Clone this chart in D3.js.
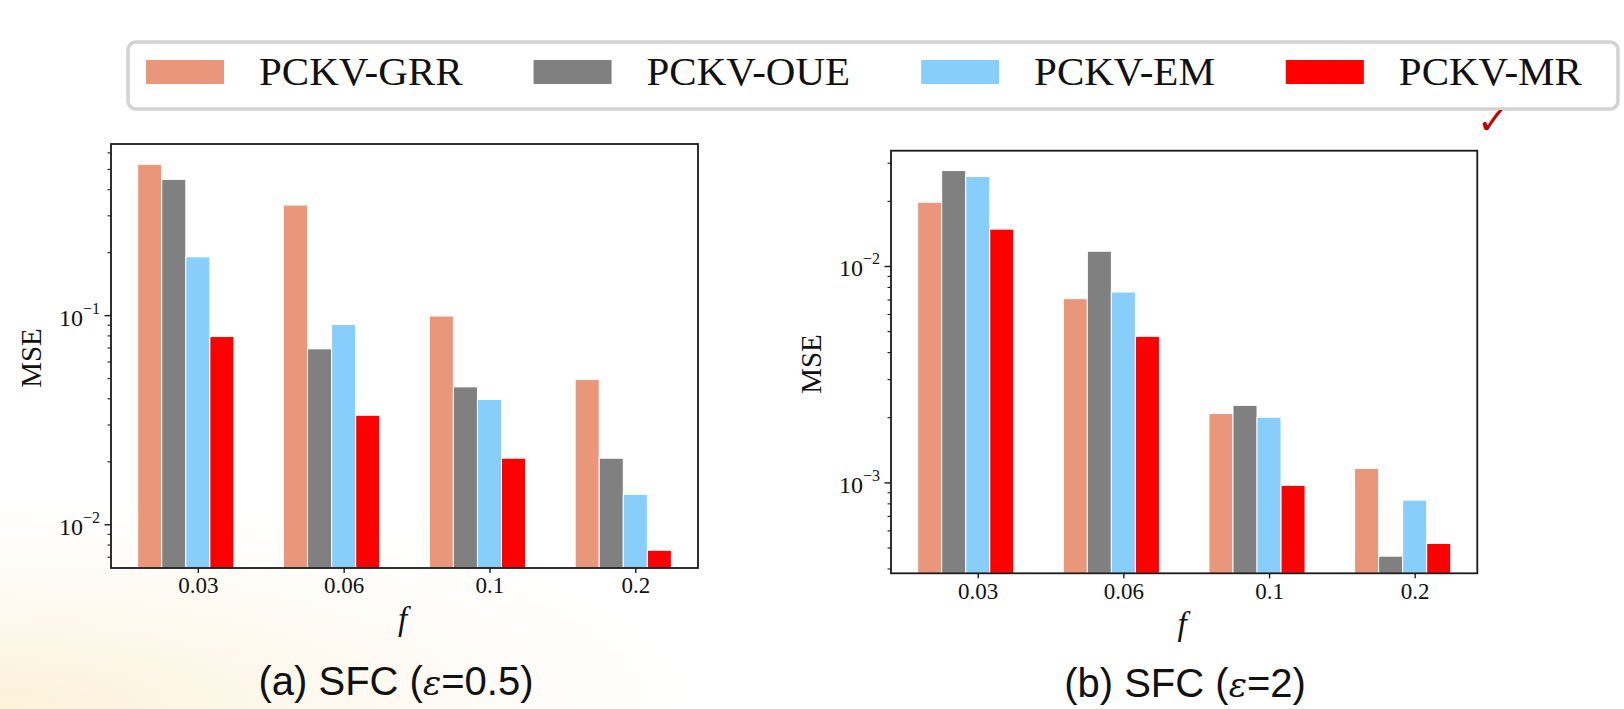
<!DOCTYPE html>
<html>
<head>
<meta charset="utf-8">
<script src="https://cdn.jsdelivr.net/npm/d3@7"></script>
<style>
  html, body { margin: 0; padding: 0; background: #ffffff; }
  svg { display: block; }
</style>
</head>
<body>
<svg id="chart" width="1624" height="709"></svg>
<script>
// ---------------- DATA ----------------
const categories = ["0.03", "0.06", "0.1", "0.2"];
const seriesNames = ["PCKV-GRR", "PCKV-OUE", "PCKV-EM", "PCKV-MR"];
const seriesColors = ["#E9967A", "#808080", "#87CEFA", "#FF0000"];

// (a) SFC (eps = 0.5)
const leftGRR = [0.526, 0.336, 0.099, 0.0492];
const leftOUE = [0.446, 0.069, 0.0454, 0.0207];
const leftEM  = [0.190, 0.0902, 0.0395, 0.0139];
const leftMR  = [0.079, 0.0332, 0.0207, 0.00751];

// (b) SFC (eps = 2)
const rightGRR = [0.0197, 0.00706, 0.00208, 0.00116];
const rightOUE = [0.0276, 0.0117, 0.00227, 0.000456];
const rightEM  = [0.0259, 0.00758, 0.00200, 0.000828];
const rightMR  = [0.0148, 0.00473, 0.000969, 0.000522];

const leftMajorTicks = [0.1, 0.01];
const leftMajorExp = ["\u22121", "\u22122"];
const rightMajorTicks = [0.01, 0.001];
const rightMajorExp = ["\u22122", "\u22123"];

const captionA = ["(a) SFC (", "\u03b5", "=0.5)"];
const captionB = ["(b) SFC (", "\u03b5", "=2)"];

// ---------------- DRAW ----------------
const svg = d3.select("#chart");
const serif = "'Liberation Serif', 'Times New Roman', serif";
const sans = "'Liberation Sans', Arial, sans-serif";

// faint slide background tint (bottom-left)
const defs = svg.append("defs");
const rg = defs.append("radialGradient").attr("id", "bgtint")
  .attr("cx", 0).attr("cy", 709).attr("r", 520).attr("gradientUnits", "userSpaceOnUse")
  .attr("gradientTransform", "translate(0,709) scale(1.5,0.45) translate(0,-709)");
rg.append("stop").attr("offset", "0").attr("stop-color", "#fbeccb").attr("stop-opacity", 0.75);
rg.append("stop").attr("offset", "0.55").attr("stop-color", "#fdf6e6").attr("stop-opacity", 0.45);
rg.append("stop").attr("offset", "1").attr("stop-color", "#ffffff").attr("stop-opacity", 0);
svg.append("rect").attr("x", 0).attr("y", 0).attr("width", 1624).attr("height", 709).attr("fill", "#ffffff");
svg.append("rect").attr("x", 0).attr("y", 0).attr("width", 1624).attr("height", 709).attr("fill", "url(#bgtint)");

const barW = 0.165;
const xDomain = [-0.5955, 3.43];

function drawPanel(cfg) {
  const g = svg.append("g");
  const x = d3.scaleLinear().domain(xDomain).range([cfg.left, cfg.right]);
  const y = d3.scaleLog().domain(cfg.yDomain).range([cfg.bottom, cfg.top]);

  cfg.series.forEach((vals, si) => {
    g.selectAll(null).data(vals).enter().append("rect")
      .attr("x", (d, i) => x(i + (si - 2) * barW - barW / 2))
      .attr("width", x(barW) - x(0))
      .attr("y", d => y(d))
      .attr("height", d => cfg.bottom - y(d))
      .attr("fill", seriesColors[si])
      .attr("stroke", "#ffffff")
      .attr("stroke-width", 1);
  });

  // frame
  g.append("rect")
    .attr("x", cfg.left).attr("y", cfg.top)
    .attr("width", cfg.right - cfg.left).attr("height", cfg.bottom - cfg.top)
    .attr("fill", "none").attr("stroke", "#1a1a1a").attr("stroke-width", 1.8);

  // x axis
  const xa = g.append("g").attr("transform", `translate(0,${cfg.bottom})`)
    .call(d3.axisBottom(x).tickValues([0, 1, 2, 3]).tickFormat(i => categories[i])
      .tickSize(5).tickPadding(4));
  xa.select(".domain").remove();
  xa.selectAll("line").attr("stroke", "#1a1a1a").attr("stroke-width", 1.4);
  xa.selectAll("text").attr("font-family", serif).attr("font-size", 23).attr("fill", "#111");

  // y minor ticks
  const [lo, hi] = cfg.yDomain;
  const minors = [];
  for (let e = Math.floor(Math.log10(lo)); e <= Math.ceil(Math.log10(hi)); e++) {
    for (let m = 2; m <= 9; m++) {
      const v = m * Math.pow(10, e);
      if (v >= lo && v <= hi) minors.push(v);
    }
  }
  const ymin = g.append("g").attr("transform", `translate(${cfg.left},0)`)
    .call(d3.axisLeft(y).tickValues(minors).tickFormat("").tickSize(3.5));
  ymin.select(".domain").remove();
  ymin.selectAll("line").attr("stroke", "#1a1a1a").attr("stroke-width", 1.1);

  const ymaj = g.append("g").attr("transform", `translate(${cfg.left},0)`)
    .call(d3.axisLeft(y).tickValues(cfg.majors).tickFormat("").tickSize(6.5));
  ymaj.select(".domain").remove();
  ymaj.selectAll("line").attr("stroke", "#1a1a1a").attr("stroke-width", 1.4);

  cfg.majors.forEach((v, i) => {
    const t = g.append("text")
      .attr("x", cfg.left - 11).attr("y", y(v) + 10.5)
      .attr("text-anchor", "end")
      .attr("font-family", serif).attr("font-size", 24).attr("fill", "#111");
    t.append("tspan").text("10");
    t.append("tspan").attr("dy", -12).attr("font-size", 16).text(cfg.exps[i]);
  });

  // y label
  g.append("text")
    .attr("transform", `translate(${cfg.left - 70},${(cfg.top + cfg.bottom) / 2 + 2}) rotate(-90)`)
    .attr("text-anchor", "middle")
    .attr("font-family", serif).attr("font-size", 29).attr("fill", "#111")
    .text("MSE");

  // x label
  g.append("text")
    .attr("x", (cfg.left + cfg.right) / 2 - 2).attr("y", cfg.bottom + 62)
    .attr("text-anchor", "middle")
    .attr("font-family", serif).attr("font-style", "italic").attr("font-size", 33).attr("fill", "#111")
    .text("f");

  // caption
  const cap = g.append("text")
    .attr("x", cfg.capX).attr("y", cfg.capY)
    .attr("text-anchor", "middle")
    .attr("font-family", sans).attr("font-size", 40).attr("fill", "#111");
  cap.append("tspan").text(cfg.caption[0]);
  cap.append("tspan").attr("font-family", "'DejaVu Serif', serif").attr("font-style", "italic").attr("font-size", 34).text(cfg.caption[1]);
  cap.append("tspan").text(cfg.caption[2]);
}

drawPanel({
  left: 111, right: 698, top: 144, bottom: 568,
  yDomain: [0.00618, 0.658],
  series: [leftGRR, leftOUE, leftEM, leftMR],
  majors: leftMajorTicks, exps: leftMajorExp,
  caption: captionA, capX: 396, capY: 695
});

drawPanel({
  left: 891, right: 1477.3, top: 150.7, bottom: 573.3,
  yDomain: [0.000380, 0.0341],
  series: [rightGRR, rightOUE, rightEM, rightMR],
  majors: rightMajorTicks, exps: rightMajorExp,
  caption: captionB, capX: 1185, capY: 697
});

// ---------------- LEGEND ----------------
const lg = svg.append("g");
lg.append("rect").attr("x", 128).attr("y", 42).attr("width", 1490).attr("height", 67)
  .attr("rx", 8).attr("ry", 8)
  .attr("fill", "#ffffff").attr("stroke", "#d2d2d2").attr("stroke-width", 3.5);

let lx = 146;
seriesNames.forEach((name, i) => {
  lg.append("rect").attr("x", lx).attr("y", 60).attr("width", 78).attr("height", 24)
    .attr("fill", seriesColors[i]);
  const t = lg.append("text").attr("x", lx + 78 + 35).attr("y", 85)
    .attr("font-family", serif).attr("font-size", 41).attr("fill", "#111")
    .text(name);
  const w = t.node().getComputedTextLength();
  lx = lx + 78 + 35 + w + 71;
});

// red check mark
svg.append("text").attr("x", 1477).attr("y", 134)
  .attr("font-family", "'DejaVu Sans', sans-serif").attr("font-size", 38)
  .attr("fill", "#c00000").text("\u2713");
</script>
</body>
</html>
